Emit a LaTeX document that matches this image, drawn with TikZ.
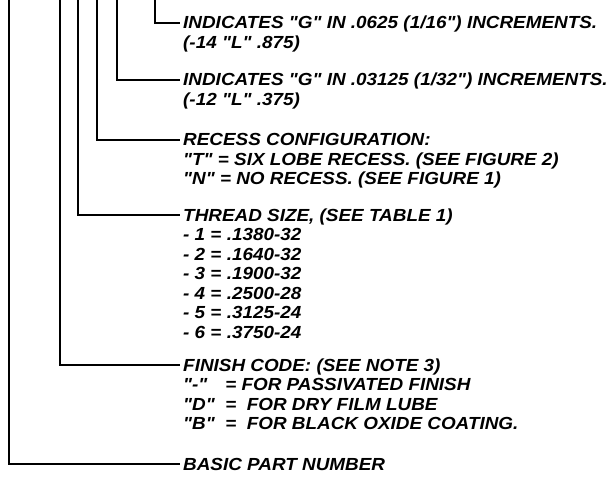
\documentclass[tikz,border=0pt]{standalone}
\usepackage{fontspec}
\setmainfont{Liberation Sans}[Ligatures=TeXOff, FakeStretch=1.08]
\usepackage{tikz}
\usetikzlibrary{positioning}
\newcommand{\calloutfont}{\fontsize{17.5}{19.5}\selectfont\bfseries\itshape}
\tikzstyle{callout} = [anchor=base west, inner sep=0pt, align=left, font=\calloutfont]
\tikzstyle{leader} = [draw, line width=1.2pt]

\begin{document}
\begin{tikzpicture}[x=1pt, y=-1pt]
    \useasboundingbox (0,0) rectangle (613,484);
    % Nodes
    \node [callout] (grossone) at (183,29) {\begin{tabular}[t]{@{}l@{}}INDICATES "G" IN .0625 (1/16") INCREMENTS.\\(-14 "L" .875)\end{tabular}};
    \node [callout] (grossfine) at (183,86) {\begin{tabular}[t]{@{}l@{}}INDICATES "G" IN .03125 (1/32") INCREMENTS.\\(-12 "L" .375)\end{tabular}};
    \node [callout] (recess) at (183,146) {\begin{tabular}[t]{@{}l@{}}RECESS CONFIGURATION:\\"T" = SIX LOBE RECESS. (SEE FIGURE 2)\\"N" = NO RECESS. (SEE FIGURE 1)\end{tabular}};
    \node [callout] (thread) at (183,221) {\begin{tabular}[t]{@{}l@{}}THREAD SIZE, (SEE TABLE 1)\\- 1 = .1380-32\\- 2 = .1640-32\\- 3 = .1900-32\\- 4 = .2500-28\\- 5 = .3125-24\\- 6 = .3750-24\end{tabular}};
    \node [callout] (finish) at (183,371) {\begin{tabular}[t]{@{}l@{}}FINISH CODE: (SEE NOTE 3)\\\rlap{"-"}\phantom{"D"}\ \ = FOR PASSIVATED FINISH\\"D"\ \ =\ \ FOR DRY FILM LUBE\\"B"\ \ =\ \ FOR BLACK OXIDE COATING.\end{tabular}};
    \node [callout] (basic) at (183,470) {BASIC PART NUMBER};

    % Leader tops
    \coordinate (topA) at (155,0);
    \coordinate (topB) at (117,0);
    \coordinate (topC) at (97,0);
    \coordinate (topD) at (78,0);
    \coordinate (topE) at (60,0);
    \coordinate (topF) at (9,0);

    % Edges
    \path [leader] (topA) |- ([xshift=-3pt, yshift=6pt]grossone.base west);
    \path [leader] (topB) |- ([xshift=-3pt, yshift=6pt]grossfine.base west);
    \path [leader] (topC) |- ([xshift=-3pt, yshift=6pt]recess.base west);
    \path [leader] (topD) |- ([xshift=-3pt, yshift=6pt]thread.base west);
    \path [leader] (topE) |- ([xshift=-3pt, yshift=6pt]finish.base west);
    \path [leader] (topF) |- ([xshift=-3pt, yshift=6pt]basic.base west);
\end{tikzpicture}
\end{document}
